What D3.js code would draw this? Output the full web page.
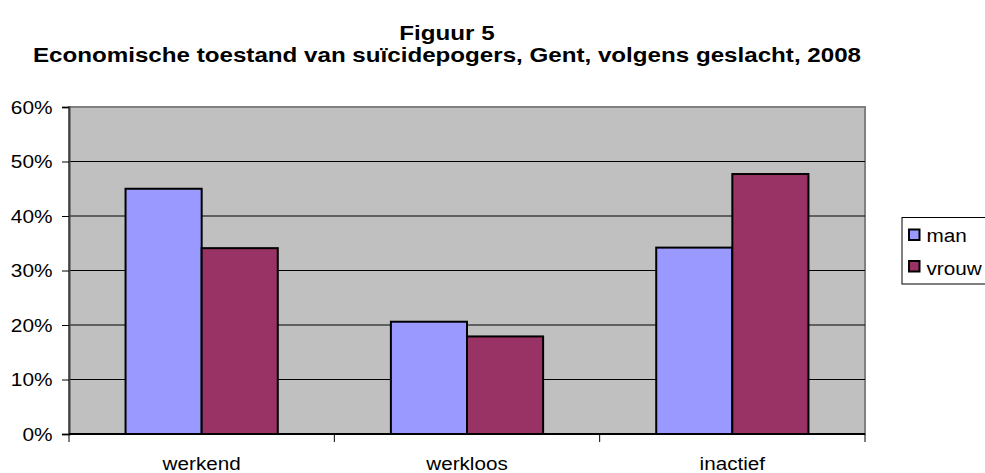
<!DOCTYPE html>
<html>
<head>
<meta charset="utf-8">
<script src="https://cdn.jsdelivr.net/npm/d3@7"></script>
<style>
  body { margin: 0; background: #fff; }
  svg text { font-family: "Liberation Sans", Arial, sans-serif; fill: #000; }
</style>
</head>
<body>
<svg id="chart" width="985" height="473"></svg>
<script>
const categories = ["werkend", "werkloos", "inactief"];
const seriesNames = ["man", "vrouw"];
const manValues = [0.450, 0.206, 0.342];
const vrouwValues = [0.341, 0.179, 0.477];
const yTicks = [0, 0.1, 0.2, 0.3, 0.4, 0.5, 0.6];
const colors = ["#9999FF", "#993366"];

const svg = d3.select("#chart");
const plotL = 69, plotR = 865, plotT = 107, plotB = 434;
const stretch = 1.15; // the original picture is a bit wider than tall

// widen text horizontally like the original
function widen(sel, s) {
  sel.each(function () {
    const len = this.getComputedTextLength();
    d3.select(this).attr("textLength", len * s).attr("lengthAdjust", "spacingAndGlyphs");
  });
}

// scales
const x = d3.scaleBand().domain(categories).range([plotL, plotR]);
const xSeries = d3.scaleBand().domain(seriesNames).range([0, x.bandwidth()]).paddingOuter(0.743).paddingInner(0);
const y = d3.scaleLinear().domain([0, 0.6]).range([plotB, plotT]);

// title
const t1 = svg.append("text").attr("x", 447).attr("y", 39.5).attr("text-anchor", "middle")
  .style("font-weight", "bold").style("font-size", "21px").text("Figuur 5");
const t2 = svg.append("text").attr("x", 447).attr("y", 62.3).attr("text-anchor", "middle")
  .style("font-weight", "bold").style("font-size", "21px")
  .text("Economische toestand van suïcidepogers, Gent, volgens geslacht, 2008");
widen(t1, stretch);
widen(t2, stretch);

// plot area
svg.append("rect").attr("x", plotL).attr("y", plotT).attr("width", plotR - plotL).attr("height", plotB - plotT)
  .attr("fill", "#C0C0C0").attr("stroke", "#808080").attr("stroke-width", 2);

// gridlines
svg.append("g").selectAll("line").data(yTicks.filter(d => d > 0 && d < 0.6)).join("line")
  .attr("x1", plotL).attr("x2", plotR).attr("y1", d => y(d)).attr("y2", d => y(d))
  .attr("stroke", "#000").attr("stroke-width", 1);

// bars
const data = categories.map((c, i) => ({ c, vals: [manValues[i], vrouwValues[i]] }));
const groups = svg.append("g").selectAll("g").data(data).join("g")
  .attr("transform", d => `translate(${x(d.c)},0)`);
groups.selectAll("rect").data(d => d.vals.map((v, j) => ({ v, s: seriesNames[j], j }))).join("rect")
  .attr("x", d => xSeries(d.s)).attr("width", xSeries.bandwidth())
  .attr("y", d => y(d.v)).attr("height", d => y(0) - y(d.v))
  .attr("fill", d => colors[d.j]).attr("stroke", "#000").attr("stroke-width", 2);

// y axis
const yAxis = svg.append("g").attr("transform", `translate(${plotL},0)`)
  .call(d3.axisLeft(y).tickValues(yTicks).tickFormat(d3.format(".0%")).tickSize(7).tickPadding(10));
yAxis.select(".domain").attr("stroke", "#404040").attr("stroke-width", 2);
yAxis.selectAll(".tick line").attr("stroke", "#000");
yAxis.selectAll("text").style("font-size", "17.5px").style("font-family", "Liberation Sans, Arial, sans-serif")
  .attr("x", -16.5).attr("dy", "0.36em").call(widen, 1.19);

// x axis
const xAxis = svg.append("g").attr("transform", `translate(0,${plotB})`);
xAxis.append("line").attr("x1", plotL).attr("x2", plotR).attr("stroke", "#000").attr("stroke-width", 2);
const bounds = categories.map(c => x(c)).concat([plotR]);
xAxis.selectAll("line.tk").data(bounds).join("line").attr("class", "tk")
  .attr("x1", d => d).attr("x2", d => d).attr("y1", 0).attr("y2", 8).attr("stroke", "#000");
xAxis.selectAll("text").data(categories).join("text")
  .attr("x", d => x(d) + x.bandwidth() / 2).attr("y", 35.5).attr("text-anchor", "middle")
  .style("font-size", "17.5px").text(d => d).call(widen, 1.18);

// legend
const lg = svg.append("g");
lg.append("rect").attr("x", 902).attr("y", 217.5).attr("width", 100).attr("height", 66.5)
  .attr("fill", "#fff").attr("stroke", "#000").attr("stroke-width", 1);
seriesNames.forEach((s, i) => {
  lg.append("rect").attr("x", 909).attr("y", 229.5 + i * 31.5).attr("width", 10.5).attr("height", 10.5)
    .attr("fill", colors[i]).attr("stroke", "#000").attr("stroke-width", 2);
  lg.append("text").attr("x", 926.5).attr("y", 242 + i * 32.5).style("font-size", "18px").text(s)
    .call(widen, stretch);
});
</script>
</body>
</html>
